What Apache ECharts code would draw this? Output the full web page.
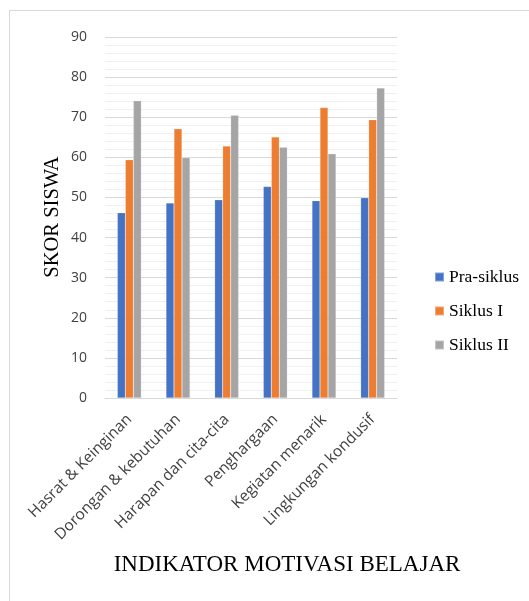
<!DOCTYPE html>
<html>
<head>
<meta charset="utf-8">
<script src="https://cdn.jsdelivr.net/npm/echarts@6/dist/echarts.min.js"></script>
<style>
html,body{margin:0;padding:0;background:#fff;}
#frame{position:absolute;left:9px;top:10px;width:520px;height:591px;border-left:1px solid #d9d9d9;border-top:1px solid #d9d9d9;}
#chart{position:absolute;left:0;top:0;width:529px;height:601px;}
</style>
</head>
<body>
<div id="frame"></div>
<div id="chart"></div>
<script>
const categories = ["Hasrat & Keinginan","Dorongan & kebutuhan","Harapan dan cita-cita","Penghargaan","Kegiatan menarik","Lingkungan kondusif"];
const praSiklus = [46.2, 48.6, 49.4, 52.7, 49.2, 49.9];
const siklusI = [59.4, 67.1, 62.8, 65.1, 72.4, 69.4];
const siklusII = [74.1, 59.9, 70.5, 62.5, 60.9, 77.3];
const seriesNames = ["Pra-siklus","Siklus I","Siklus II"];
const colors = ["#4472C4","#ED7D31","#A5A5A5"];
const xTitle = "INDIKATOR MOTIVASI BELAJAR";
const yTitle = "SKOR SISWA";

const chart = echarts.init(document.getElementById('chart'), null, {renderer:'canvas'});
const mk = (name, data, c) => ({
  name, type:'bar', data, barWidth:8, barGap:'0%',
  itemStyle:{color:c, borderColor:'rgba(255,255,255,0.35)', borderWidth:0.5}
});
chart.setOption({
  animation:false,
  color: colors,
  grid:{left:105, right:132, top:37, bottom:203, containLabel:false},
  legend:{
    orient:'vertical', left:429, top:263,
    itemWidth:9, itemHeight:9, itemGap:16,
    icon:'rect',
    textStyle:{fontFamily:'Liberation Serif', fontSize:17.5, color:'#000', lineHeight:18},
    data: seriesNames
  },
  graphic:[{
    type:'text', x:287, y:565,
    style:{text:xTitle, fontFamily:'Liberation Serif', fontSize:23, fill:'#000', align:'center', verticalAlign:'middle'}
  },{
    type:'text', x:53, y:217, rotation:Math.PI/2,
    style:{text:yTitle, fontFamily:'Liberation Serif', fontSize:20.5, fill:'#000', align:'center', verticalAlign:'middle'}
  }],
  xAxis:{
    type:'category', data:categories,
    axisLine:{lineStyle:{color:'#d9d9d9', width:1}},
    axisTick:{show:false},
    axisLabel:{rotate:45, interval:0, margin:19, fontFamily:'Open Sans', fontSize:15.5, color:'#404040'}
  },
  yAxis:{
    type:'value', min:0, max:90, interval:10,
    axisLine:{show:false}, axisTick:{show:false},
    axisLabel:{margin:18, fontFamily:'Open Sans', fontSize:14, color:'#404040'},
    splitLine:{lineStyle:{color:'#d9d9d9', width:1}},
    minorTick:{show:false, splitNumber:5},
    minorSplitLine:{show:true, lineStyle:{color:'#f0f0f0', width:1}}
  },
  series:[
    mk(seriesNames[0], praSiklus, colors[0]),
    mk(seriesNames[1], siklusI, colors[1]),
    mk(seriesNames[2], siklusII, colors[2])
  ]
});
</script>
</body>
</html>
